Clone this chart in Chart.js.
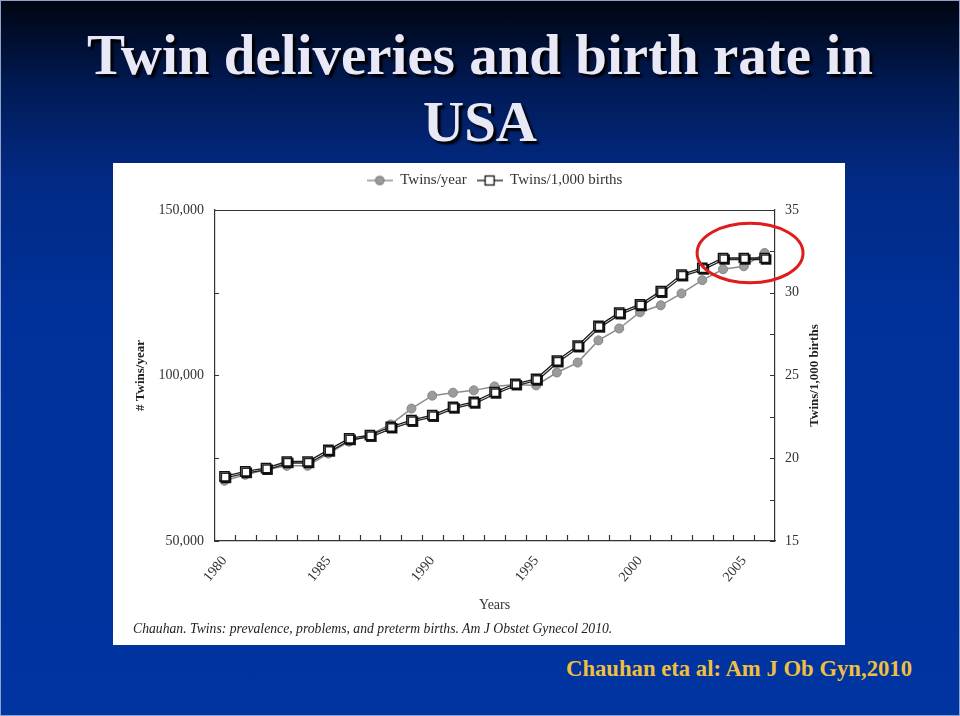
<!DOCTYPE html>
<html>
<head>
<meta charset="utf-8">
<script src="https://cdn.jsdelivr.net/npm/chart.js@4.4.1/dist/chart.umd.min.js"></script>
<style>
  html, body { margin: 0; padding: 0; }
  body {
    width: 960px; height: 716px; position: relative; overflow: hidden;
    background: linear-gradient(to bottom, #000510 0%, #011a55 12%, #022a85 25%, #00319b 45%, #0034a0 100%);
    box-shadow: inset 0 0 0 1px #8fa3c8;
    font-family: "Liberation Serif", "Times New Roman", serif;
  }
  #title {
    position: absolute; left: 0; top: 21px; width: 960px;
    text-align: center; font-size: 57px; line-height: 67px; font-weight: bold;
    color: #e8e8f6; text-shadow: 3px 3px 2px #000;
  }
  #panel { position: absolute; left: 113px; top: 163px; width: 732px; height: 482px; background: #fff; }
  #chartBox { position: absolute; left: 0; top: 0; width: 732px; height: 482px; }
  #caption { position: absolute; left: 20px; top: 458px; font-style: italic; font-size: 13.7px; color: #222; }
  #cite {
    position: absolute; left: 566px; top: 658px; font-size: 22.7px; line-height: 1;
    font-weight: bold; color: #efbf3f;
  }
</style>
</head>
<body>
<div id="title">Twin deliveries and birth rate in<br>USA</div>
<div id="panel">
  <div id="chartBox"><canvas id="chartTwins"></canvas></div>
  <div id="caption">Chauhan. Twins: prevalence, problems, and preterm births. Am J Obstet Gynecol 2010.</div>
</div>
<div id="cite">Chauhan eta al: Am J Ob Gyn,2010</div>

<script>
// donnees
const years = [1980, 1981, 1982, 1983, 1984, 1985, 1986, 1987, 1988, 1989,
  1990, 1991, 1992, 1993, 1994, 1995, 1996, 1997, 1998, 1999,
  2000, 2001, 2002, 2003, 2004, 2005, 2006];
const twinsPerYear = [68200, 70000, 71500, 72700, 72700, 76400, 80000, 82100, 85200, 90000,
  93900, 94800, 95500, 96700, 97300, 97000, 100900, 103900, 110600, 114200,
  119100, 121200, 124800, 128800, 132100, 133000, 137000];
const twinsPer1000 = [18.9, 19.2, 19.4, 19.8, 19.8, 20.5, 21.2, 21.4, 21.9, 22.3,
  22.6, 23.1, 23.4, 24.0, 24.5, 24.8, 25.9, 26.8, 28.0, 28.8,
  29.3, 30.1, 31.1, 31.5, 32.1, 32.1, 32.1];
const leftLabelTicks = [50000, 100000, 150000];
const rightLabelTicks = [15, 20, 25, 30, 35];
const yearLabelTicks = [1980, 1985, 1990, 1995, 2000, 2005];

const serif = '"Liberation Serif", "Times New Roman", serif';

// petites icones de legende (ligne + marqueur)
function legendIcon(kind) {
  const c = document.createElement('canvas');
  c.width = 26; c.height = 14;
  const g = c.getContext('2d');
  g.lineWidth = 1.3;
  g.strokeStyle = kind === 'circle' ? '#808080' : '#111';
  g.beginPath(); g.moveTo(0, 7); g.lineTo(26, 7); g.stroke();
  if (kind === 'circle') {
    g.fillStyle = '#9b9b9b';
    g.beginPath(); g.arc(13, 7, 4.2, 0, 2 * Math.PI); g.fill(); g.stroke();
  } else {
    g.fillStyle = '#fff';
    g.fillRect(8.5, 2.5, 9, 9); g.strokeRect(8.5, 2.5, 9, 9);
  }
  return c;
}

// espace sous la legende
const legendGap = {
  id: 'legendGap',
  beforeInit(chart) {
    const fit = chart.legend.fit;
    chart.legend.fit = function() {
      fit.bind(chart.legend)();
      this.height += 12;
    };
  }
};

// ombre sous les carres
const squareShadow = {
  id: 'squareShadow',
  beforeDatasetDraw(chart, args) {
    if (args.index !== 1) return;
    const ctx = chart.ctx;
    ctx.save();
    ctx.shadowColor = 'rgba(0,0,0,0.85)';
    ctx.shadowOffsetX = 1.5;
    ctx.shadowOffsetY = 1.5;
    ctx.shadowBlur = 0;
  },
  afterDatasetDraw(chart, args) {
    if (args.index !== 1) return;
    chart.ctx.restore();
  }
};

// cadre, graduations interieures, titre de droite, cercle rouge
const frameAndMarks = {
  id: 'frameAndMarks',
  afterDraw(chart) {
    const { ctx, chartArea: a, scales } = chart;
    const xs = scales.x, y = scales.y, y1 = scales.y1;
    ctx.save();
    ctx.strokeStyle = '#333';
    ctx.lineWidth = 1.2;
    ctx.beginPath();
    ctx.moveTo(a.left, a.top + 0.5); ctx.lineTo(a.right, a.top + 0.5);
    y.ticks.forEach(t => {
      const py = Math.round(y.getPixelForValue(t.value)) + 0.5;
      ctx.moveTo(a.left, py); ctx.lineTo(a.left + 5, py);
    });
    y1.ticks.forEach(t => {
      const py = Math.round(y1.getPixelForValue(t.value)) + 0.5;
      ctx.moveTo(a.right, py); ctx.lineTo(a.right - 5, py);
    });
    for (let i = 1; i < years.length; i++) {
      const px = Math.round((xs.getPixelForValue(i - 1) + xs.getPixelForValue(i)) / 2) + 0.5;
      ctx.moveTo(px, a.bottom); ctx.lineTo(px, a.bottom - 6);
    }
    ctx.stroke();

    // titre axe de droite, lu de bas en haut
    ctx.fillStyle = '#222';
    ctx.font = 'bold 13px ' + serif;
    ctx.textAlign = 'center';
    ctx.textBaseline = 'middle';
    ctx.translate(a.right + 40, (a.top + a.bottom) / 2);
    ctx.rotate(-Math.PI / 2);
    ctx.fillText('Twins/1,000 births', 0, 0);
    ctx.restore();

    // cercle rouge autour de 2004-2006
    const cx = xs.getPixelForValue(25.3);
    const rx = xs.getPixelForValue(27.85) - cx;
    const cy = y1.getPixelForValue(32.4);
    const ry = y1.getPixelForValue(30.6) - cy;
    ctx.save();
    ctx.strokeStyle = '#e01b1b';
    ctx.lineWidth = 3;
    ctx.beginPath();
    ctx.ellipse(cx, cy, rx, Math.abs(ry), 0, 0, 2 * Math.PI);
    ctx.stroke();
    ctx.restore();
  }
};

const ctxTwins = document.getElementById('chartTwins').getContext('2d');
const chartTwins = new Chart(ctxTwins, {
  type: 'line',
  data: {
    labels: years,
    datasets: [
      {
        label: 'Twins/year',
        data: twinsPerYear,
        yAxisID: 'y',
        order: 1,
        borderColor: '#8c8c8c',
        borderWidth: 1.5,
        pointStyle: 'circle',
        pointRadius: 4.5,
        pointBackgroundColor: '#9b9b9b',
        pointBorderColor: '#858585',
        pointBorderWidth: 1,
        tension: 0
      },
      {
        label: 'Twins/1,000 births',
        data: twinsPer1000,
        yAxisID: 'y1',
        order: 0,
        borderColor: '#1a1a1a',
        borderWidth: 1.3,
        pointStyle: 'rect',
        pointRadius: 6.5,
        pointBackgroundColor: '#fff',
        pointBorderColor: '#111',
        pointBorderWidth: 1.5,
        tension: 0
      }
    ]
  },
  options: {
    responsive: true,
    maintainAspectRatio: false,
    animation: false,
    layout: { padding: { left: 16, right: 36, top: 0, bottom: 31 } },
    plugins: {
      tooltip: { enabled: false },
      legend: {
        position: 'top',
        fullSize: false,
        labels: {
          usePointStyle: true,
          pointStyleWidth: 26,
          padding: 10,
          color: '#333',
          font: { family: serif, size: 15 },
          generateLabels: function(chart) {
            return chart.data.datasets.map((ds, i) => ({
              text: ds.label,
              pointStyle: legendIcon(i === 0 ? 'circle' : 'rect'),
              fillStyle: 'transparent',
              strokeStyle: 'transparent',
              lineWidth: 0,
              fontColor: '#333',
              datasetIndex: i,
              hidden: false
            }));
          }
        }
      }
    },
    scales: {
      x: {
        type: 'category',
        offset: true,
        grid: { display: false, drawTicks: false },
        border: { display: true, color: '#333', width: 1.2 },
        ticks: {
          autoSkip: false,
          maxRotation: 50,
          minRotation: 50,
          padding: 12,
          color: '#333',
          font: { family: serif, size: 14 },
          callback: function(value, index) {
            return yearLabelTicks.includes(years[index]) ? String(years[index]) : '';
          }
        },
        title: { display: true, text: 'Years', color: '#333', font: { family: serif, size: 14 }, padding: { top: 0, bottom: 0 } }
      },
      y: {
        position: 'left',
        min: 50000,
        max: 150000,
        grid: { display: false, drawTicks: false },
        border: { display: true, color: '#333', width: 1.2 },
        ticks: {
          stepSize: 25000,
          padding: 10,
          color: '#333',
          font: { family: serif, size: 14 },
          callback: v => leftLabelTicks.includes(v) ? v.toLocaleString('en-US') : ''
        },
        title: { display: true, text: '# Twins/year', color: '#222', font: { family: serif, size: 13, weight: 'bold' }, padding: { top: 4, bottom: 0 } }
      },
      y1: {
        position: 'right',
        min: 15,
        max: 35,
        grid: { display: false, drawTicks: false },
        border: { display: true, color: '#333', width: 1.2 },
        ticks: {
          stepSize: 2.5,
          padding: 10,
          color: '#333',
          font: { family: serif, size: 14 },
          callback: v => rightLabelTicks.includes(v) ? String(v) : ''
        }
      }
    }
  },
  plugins: [legendGap, squareShadow, frameAndMarks]
});
</script>
</body>
</html>
